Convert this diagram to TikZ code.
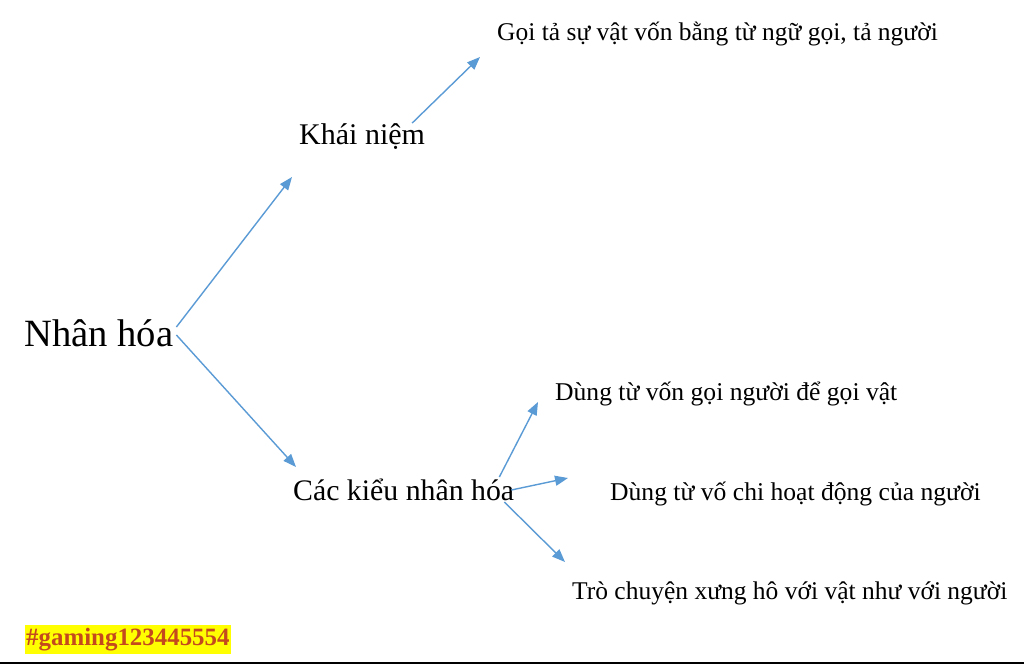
\documentclass[tikz,border=0pt]{standalone}
\usepackage{fontspec}
\setmainfont{Liberation Serif}
\usetikzlibrary{arrows.meta}
\definecolor{arrblue}{HTML}{5B9BD5}
\definecolor{wmred}{HTML}{C44A1E}
\definecolor{wmyellow}{HTML}{FFFF00}
\tikzset{
  arr/.style={draw=arrblue, line width=1.4pt, -{Triangle[length=13pt,width=10pt]}},
  txt/.style={inner sep=0pt, anchor=base west, text=black},
}
\begin{document}
\begin{tikzpicture}[x=1pt,y=-1pt]
\useasboundingbox (0,0) rectangle (1024,665);
\fill[white] (0,0) rectangle (1024,665);
\draw[black, line width=2pt] (0,663) -- (1024,663);
% nodes
\node[txt, font=\fontsize{38.6}{42}\selectfont] (nh) at (24,346) {Nhân hóa};
\node[txt, font=\fontsize{30}{34}\selectfont] (kn) at (299,144) {Khái niệm};
\node[txt, font=\fontsize{29.8}{34}\selectfont] (ck) at (293,500) {Các kiểu nhân hóa};
\node[txt, font=\fontsize{25.5}{29}\selectfont] (def) at (497,40) {Gọi tả sự vật vốn bằng từ ngữ gọi, tả người};
\node[txt, font=\fontsize{25.6}{29}\selectfont] (k1) at (555,400) {Dùng từ vốn gọi người để gọi vật};
\node[txt, font=\fontsize{25.6}{29}\selectfont] (k2) at (610,500) {Dùng từ vố chi hoạt động của người};
\node[txt, font=\fontsize{25.5}{29}\selectfont] (k3) at (572,599) {Trò chuyện xưng hô với vật như với người};
\node[txt, fill=wmyellow, text=wmred, font=\bfseries\fontsize{24.9}{28}\selectfont, inner ysep=3pt, inner xsep=1pt] (wm) at (25,645) {\#gaming123445554};
% free ends
\coordinate (t1) at (292,177);
\coordinate (t2) at (296,467);
\coordinate (t3) at (480,57);
\coordinate (t4) at (538,402);
\coordinate (t5) at (568,478);
\coordinate (t6) at (565,562);
% connectors
\draw[arr] ([shift={(3,-19)}]nh.base east) -- (t1);
\draw[arr] ([shift={(3,-11)}]nh.base east) -- (t2);
\draw[arr] ([shift={(-13,-21)}]kn.base east) -- (t3);
\draw[arr] ([shift={(-15,-23)}]ck.base east) -- (t4);
\draw[arr] ([shift={(-3,-10)}]ck.base east) -- (t5);
\draw[arr] ([shift={(-10,2)}]ck.base east) -- (t6);
\end{tikzpicture}
\end{document}
